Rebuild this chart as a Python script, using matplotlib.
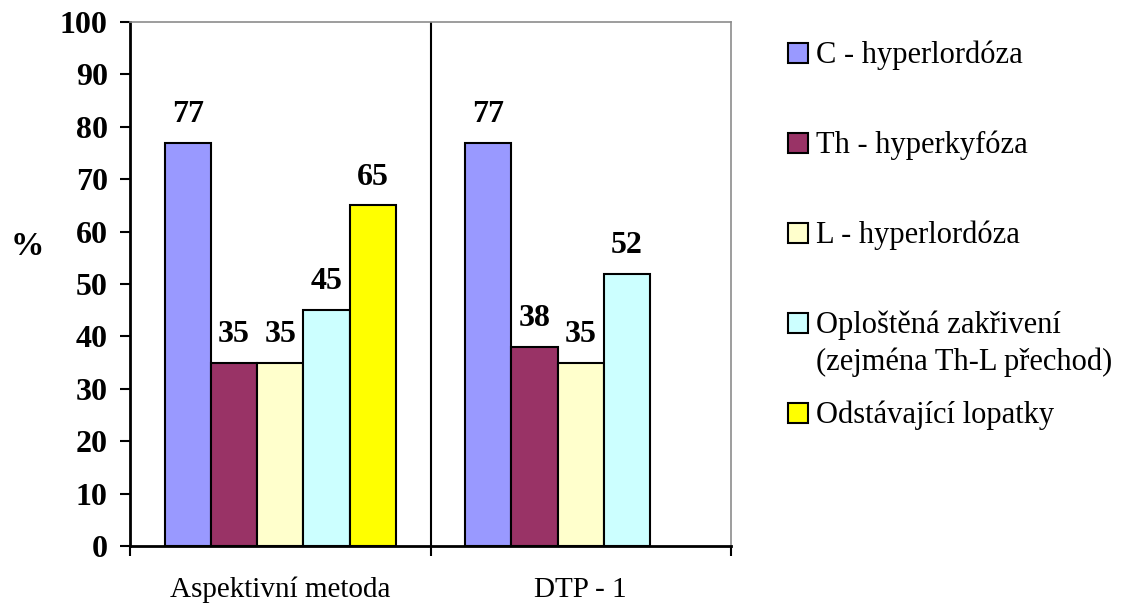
import numpy as np
import matplotlib.pyplot as plt
from matplotlib.patches import Rectangle

plt.rcParams['font.family'] = ['Liberation Serif', 'DejaVu Serif']

methods = ["Aspektivní metoda", "DTP - 1"]
series = ["C - hyperlordóza", "Th - hyperkyfóza", "L - hyperlordóza",
          "Oploštěná zakřivení\n(zejména Th-L přechod)", "Odstávající lopatky"]
colors = ["#9999FF", "#993366", "#FFFFCC", "#CCFFFF", "#FFFF00"]

c_hyperlordoza = [77, 77]
th_hyperkyfoza = [35, 38]
l_hyperlordoza = [35, 35]
oplostena = [45, 52]
lopatky = [65, np.nan]  # not assessed by DTP - 1

values = [c_hyperlordoza, th_hyperkyfoza, l_hyperlordoza, oplostena, lopatky]

fig = plt.figure(figsize=(11.32, 6.04), dpi=100)
ax = fig.add_axes([130 / 1132, 1 - 546 / 604, 601 / 1132, 524 / 604])

x = np.arange(len(methods))
n = len(series)
w = 1 / (n + 1.5)

for i, (vals, col) in enumerate(zip(values, colors)):
    pos = x + (i - (n - 1) / 2) * w
    ax.bar(pos, vals, w, color=col, edgecolor="black", linewidth=1.5, zorder=3)
    for px, v in zip(pos, vals):
        if np.isnan(v):
            continue
        ax.annotate(f"{v:g}", (px, v), xytext=(0, 15), textcoords="offset points",
                    ha="center", va="baseline", fontsize=23, fontweight="bold")

ax.set_xlim(-0.5, 1.5)
ax.set_ylim(0, 100)
ax.set_yticks(range(0, 101, 10))
ax.tick_params(axis="y", length=7, width=1.5, pad=9, labelsize=23)
for lbl in ax.get_yticklabels():
    lbl.set_fontweight("bold")

ax.set_xticks(x)
ax.set_xticklabels(methods, fontsize=21)
ax.tick_params(axis="x", length=0, pad=22)
ax.set_xticks([-0.5, 0.5, 1.5], minor=True)
ax.tick_params(axis="x", which="minor", length=7, width=1.5, direction="out")

# divider between the two methods
ax.axvline(0.5, color="black", linewidth=1.5, zorder=2)

for side in ["left", "bottom"]:
    ax.spines[side].set_linewidth(2)
    ax.spines[side].set_color("black")
for side in ["top", "right"]:
    ax.spines[side].set_linewidth(1.2)
    ax.spines[side].set_color("#8c8c8c")

fig.text(27 / 1132, 1 - 247 / 604, "%", fontsize=24, fontweight="bold",
         ha="center", va="center")

# legend on the right
for k, (name, col) in enumerate(zip(series, colors)):
    yc = 53 + 90 * k
    fig.add_artist(Rectangle((788 / 1132, 1 - (yc + 10) / 604), 20 / 1132, 20 / 604,
                             facecolor=col, edgecolor="black", linewidth=1.5,
                             transform=fig.transFigure))
    for j, line in enumerate(name.split("\n")):
        fig.text(816 / 1132, 1 - (yc + 10 + 37 * j) / 604, line, fontsize=22,
                 ha="left", va="baseline")

fig.savefig("out.png", dpi=100)
